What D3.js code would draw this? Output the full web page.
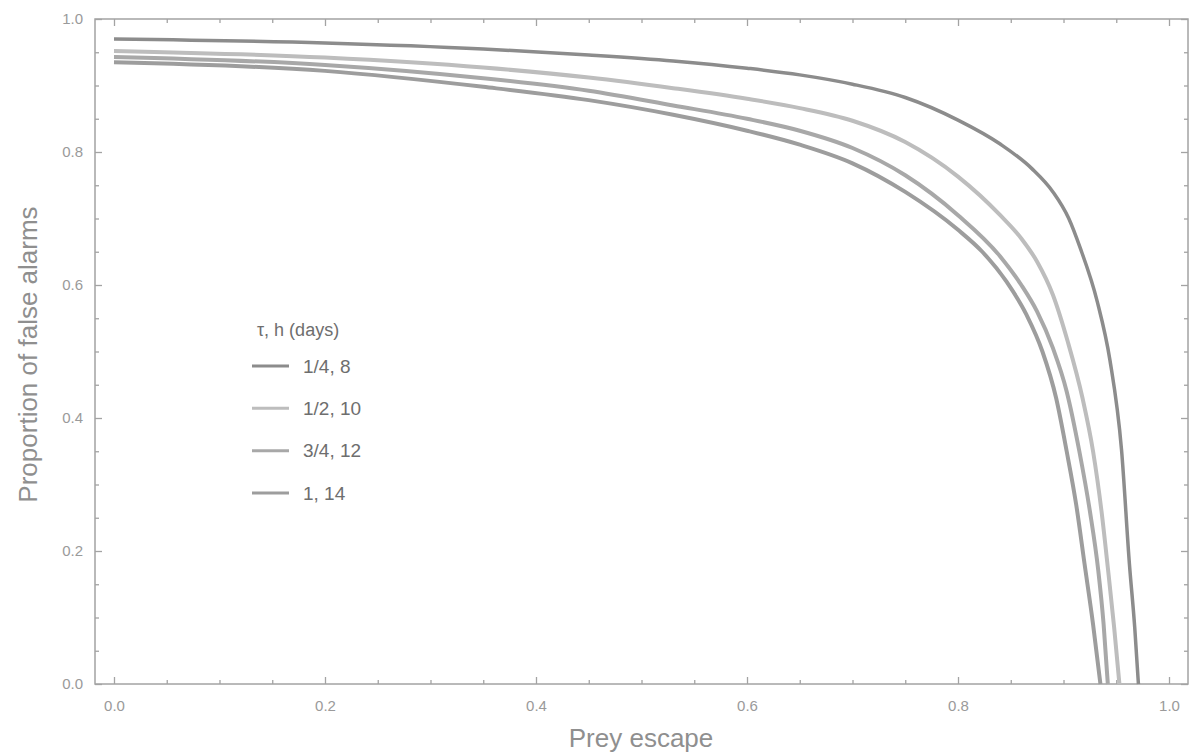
<!DOCTYPE html>
<html>
<head>
<meta charset="utf-8">
<script src="https://cdn.jsdelivr.net/npm/d3@7"></script>
<style>
  body { margin: 0; background: #fff; }
  svg { display: block; }
</style>
</head>
<body>
<svg id="chart" width="1193" height="756"></svg>
<script>
// series: [prey escape, proportion of false alarms]
const seriesNames = ['1/4, 8', '1/2, 10', '3/4, 12', '1, 14']
const seriesColors = ['#8c8c8c', '#bdbdbd', '#a8a8a8', '#9d9d9d']

const curveA = [[0, 0.970], [0.2, 0.964], [0.35, 0.955], [0.45, 0.946], [0.53, 0.937], [0.60, 0.926],
  [0.65, 0.916], [0.70, 0.902], [0.75, 0.882], [0.80, 0.848], [0.84, 0.812], [0.87, 0.775],
  [0.89, 0.740], [0.905, 0.700], [0.916, 0.655], [0.932, 0.575], [0.944, 0.487], [0.955, 0.352],
  [0.9625, 0.18], [0.9675, 0.085], [0.971, 0]]
const curveB = [[0, 0.952], [0.2, 0.942], [0.35, 0.927], [0.45, 0.912], [0.53, 0.896], [0.60, 0.880],
  [0.65, 0.866], [0.70, 0.847], [0.75, 0.815], [0.80, 0.763], [0.84, 0.705], [0.86, 0.670],
  [0.875, 0.635], [0.89, 0.585], [0.904, 0.515], [0.918, 0.43], [0.928, 0.35], [0.936, 0.26],
  [0.942, 0.175], [0.948, 0.085], [0.953, 0]]
const curveC = [[0, 0.943], [0.2, 0.931], [0.35, 0.911], [0.45, 0.892], [0.53, 0.870], [0.60, 0.850],
  [0.65, 0.832], [0.70, 0.806], [0.75, 0.765], [0.80, 0.705], [0.84, 0.643], [0.86, 0.600],
  [0.875, 0.560], [0.89, 0.505], [0.903, 0.44], [0.915, 0.35], [0.925, 0.26], [0.933, 0.17],
  [0.938, 0.09], [0.942, 0]]
const curveD = [[0, 0.935], [0.2, 0.922], [0.35, 0.898], [0.45, 0.878], [0.53, 0.856], [0.60, 0.832],
  [0.65, 0.811], [0.70, 0.783], [0.75, 0.740], [0.80, 0.683], [0.823, 0.650], [0.846, 0.605],
  [0.865, 0.555], [0.88, 0.50], [0.893, 0.43], [0.903, 0.35], [0.912, 0.27], [0.92, 0.18],
  [0.928, 0.09], [0.935, 0]]
const curves = [curveA, curveB, curveC, curveD]

const majorTicks = [0, 0.2, 0.4, 0.6, 0.8, 1.0]
const minorTicks = d3.range(0, 1.0001, 0.05).filter(v => Math.abs(v * 5 - Math.round(v * 5)) > 1e-6)

const svg = d3.select('#chart')
const font = '"Liberation Sans", Arial, Helvetica, sans-serif'

// plot frame
const frame = { left: 95, right: 1188, top: 19, bottom: 684 }

const x = d3.scaleLinear().domain([-0.018, 1.018]).range([frame.left, frame.right])
const y = d3.scaleLinear().domain([0, 1]).range([frame.bottom, frame.top])

const axisColor = '#a3a3a3'
const labelColor = '#9a9a9a'

svg.append('rect')
  .attr('x', frame.left)
  .attr('y', frame.top)
  .attr('width', frame.right - frame.left)
  .attr('height', frame.bottom - frame.top)
  .attr('fill', 'none')
  .attr('stroke', axisColor)
  .attr('stroke-width', 1.5)

// ticks point inward, on all four sides
function styleAxis(g) {
  g.select('.domain').remove()
  g.selectAll('line').attr('stroke', axisColor).attr('stroke-width', 1.3)
  g.selectAll('text')
    .attr('fill', labelColor)
    .style('font-family', font)
    .style('font-size', '15px')
}

const fmt = d3.format('.1f')

svg.append('g')
  .attr('transform', `translate(0,${frame.bottom})`)
  .call(d3.axisBottom(x).tickValues(majorTicks).tickFormat(fmt).tickSizeInner(-7).tickPadding(16))
  .call(styleAxis)
svg.append('g')
  .attr('transform', `translate(0,${frame.bottom})`)
  .call(d3.axisBottom(x).tickValues(minorTicks).tickFormat('').tickSizeInner(-4))
  .call(styleAxis)
svg.append('g')
  .attr('transform', `translate(0,${frame.top})`)
  .call(d3.axisTop(x).tickValues(majorTicks).tickFormat('').tickSizeInner(-7))
  .call(styleAxis)
svg.append('g')
  .attr('transform', `translate(0,${frame.top})`)
  .call(d3.axisTop(x).tickValues(minorTicks).tickFormat('').tickSizeInner(-4))
  .call(styleAxis)

svg.append('g')
  .attr('transform', `translate(${frame.left},0)`)
  .call(d3.axisLeft(y).tickValues(majorTicks).tickFormat(fmt).tickSizeInner(-7).tickPadding(12))
  .call(styleAxis)
svg.append('g')
  .attr('transform', `translate(${frame.left},0)`)
  .call(d3.axisLeft(y).tickValues(minorTicks).tickFormat('').tickSizeInner(-4))
  .call(styleAxis)
svg.append('g')
  .attr('transform', `translate(${frame.right},0)`)
  .call(d3.axisRight(y).tickValues(majorTicks).tickFormat('').tickSizeInner(-7))
  .call(styleAxis)
svg.append('g')
  .attr('transform', `translate(${frame.right},0)`)
  .call(d3.axisRight(y).tickValues(minorTicks).tickFormat('').tickSizeInner(-4))
  .call(styleAxis)

// curves
const line = d3.line()
  .x(d => x(d[0]))
  .y(d => y(d[1]))
  .curve(d3.curveMonotoneX)

svg.append('g')
  .selectAll('path')
  .data(curves)
  .join('path')
  .attr('d', line)
  .attr('fill', 'none')
  .attr('stroke', (d, i) => seriesColors[i])
  .attr('stroke-width', (d, i) => i === 0 ? 3.5 : 4)
  .attr('stroke-linecap', 'butt')

// axis titles
svg.append('text')
  .attr('x', 641)
  .attr('y', 747)
  .attr('text-anchor', 'middle')
  .attr('fill', '#8f8f8f')
  .style('font-family', font)
  .style('font-size', '26px')
  .text('Prey escape')

svg.append('text')
  .attr('transform', `translate(37,${(frame.top + frame.bottom) / 2 + 3}) rotate(-90)`)
  .attr('text-anchor', 'middle')
  .attr('fill', '#8f8f8f')
  .style('font-family', font)
  .style('font-size', '26px')
  .text('Proportion of false alarms')

// legend
const legend = svg.append('g').attr('transform', 'translate(252,0)')
legend.append('text')
  .attr('x', 5)
  .attr('y', 336)
  .attr('fill', '#6e6e6e')
  .style('font-family', font)
  .style('font-size', '18px')
  .text('τ, h (days)')

const legendY = d3.scalePoint().domain(seriesNames).range([366, 493])
const item = legend.selectAll('g.item')
  .data(seriesNames)
  .join('g')
  .attr('class', 'item')
  .attr('transform', d => `translate(0,${legendY(d)})`)
item.append('line')
  .attr('x1', 0)
  .attr('x2', 37)
  .attr('stroke', (d, i) => seriesColors[i])
  .attr('stroke-width', 3)
item.append('text')
  .attr('x', 51)
  .attr('dy', '0.35em')
  .attr('fill', '#6e6e6e')
  .style('font-family', font)
  .style('font-size', '19px')
  .text(d => d)
</script>
</body>
</html>
